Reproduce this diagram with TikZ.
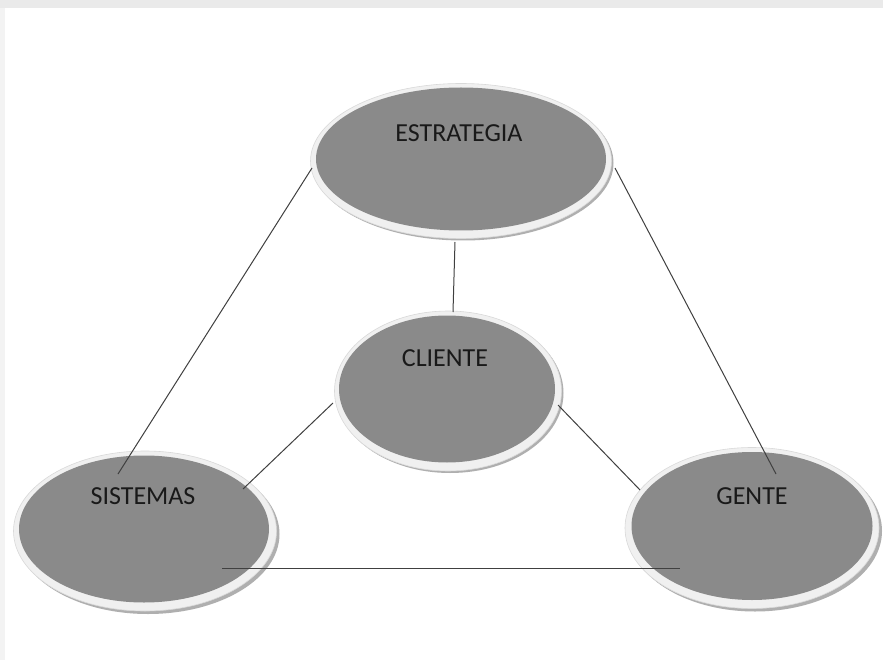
\documentclass[tikz,border=0pt]{standalone}
\usepackage{fontspec}
\setmainfont{Carlito}
\usetikzlibrary{shapes.geometric}
\definecolor{ellfill}{RGB}{138,138,138}
\definecolor{rimcol}{RGB}{240,240,240}
\definecolor{shadcol}{RGB}{175,175,175}
\definecolor{bandcol}{RGB}{234,234,234}
\begin{document}
\begin{tikzpicture}[x=1pt,y=-1pt,
  shad/.style={ellipse,fill=shadcol,draw=none,inner sep=0pt},
  rim/.style={ellipse,fill=rimcol,draw=rimcol!80!gray,line width=0.6pt,inner sep=0pt},
  core/.style={ellipse,fill=ellfill,draw=none,inner sep=0pt},
  lbl/.style={font=\fontsize{26}{26}\selectfont,text=black!90},
  link/.style={draw=black!75,line width=1pt}]
\useasboundingbox (0,0) rectangle (883,660);
\fill[white] (0,0) rectangle (883,660);
\fill[bandcol] (0,0) rectangle (883,8);
\fill[bandcol!60] (0,8) rectangle (5,660);
% ESTRATEGIA
\node[shad,minimum width=301pt,minimum height=155pt] at (463,163) {};
\node[rim,minimum width=301pt,minimum height=155pt] (estR) at (461,161) {};
\node[core,minimum width=290pt,minimum height=143pt] (est) at (461,159) {};
\node[lbl] (estT) at (459,133) {ESTRATEGIA};
% CLIENTE
\node[shad,minimum width=227pt,minimum height=160pt] at (450,393) {};
\node[rim,minimum width=227pt,minimum height=160pt] (cliR) at (448,391) {};
\node[core,minimum width=216pt,minimum height=147pt] (cli) at (447,389) {};
\node[lbl] (cliT) at (445,358) {CLIENTE};
% SISTEMAS
\node[shad,minimum width=263pt,minimum height=160pt] at (148,534) {};
\node[rim,minimum width=263pt,minimum height=160pt] (sisR) at (145,531) {};
\node[core,minimum width=250pt,minimum height=147pt] (sis) at (144,529) {};
\node[lbl] (sisT) at (143,496) {SISTEMAS};
% GENTE
\node[shad,minimum width=254pt,minimum height=161pt] at (755,531) {};
\node[rim,minimum width=254pt,minimum height=161pt] (genR) at (752,528) {};
\node[core,minimum width=241pt,minimum height=148pt] (gen) at (752,526) {};
\node[lbl] (genT) at (752,496) {GENTE};
% connector end points
\coordinate (a1) at (312,168);
\coordinate (a2) at (118,474);
\coordinate (b1) at (615,168);
\coordinate (b2) at (776,474);
\coordinate (c1) at (455,242);
\coordinate (c2) at (453,312);
\coordinate (d1) at (333,403);
\coordinate (d2) at (243,489);
\coordinate (e1) at (558,405);
\coordinate (e2) at (640,490);
\coordinate (f1) at (222,568);
\coordinate (f2) at (680,568);
\draw[link] (a1) -- (a2);
\draw[link] (b1) -- (b2);
\draw[link] (c1) -- (c2);
\draw[link] (d1) -- (d2);
\draw[link] (e1) -- (e2);
\draw[link] (f1) -- (f2);
\end{tikzpicture}
\end{document}
